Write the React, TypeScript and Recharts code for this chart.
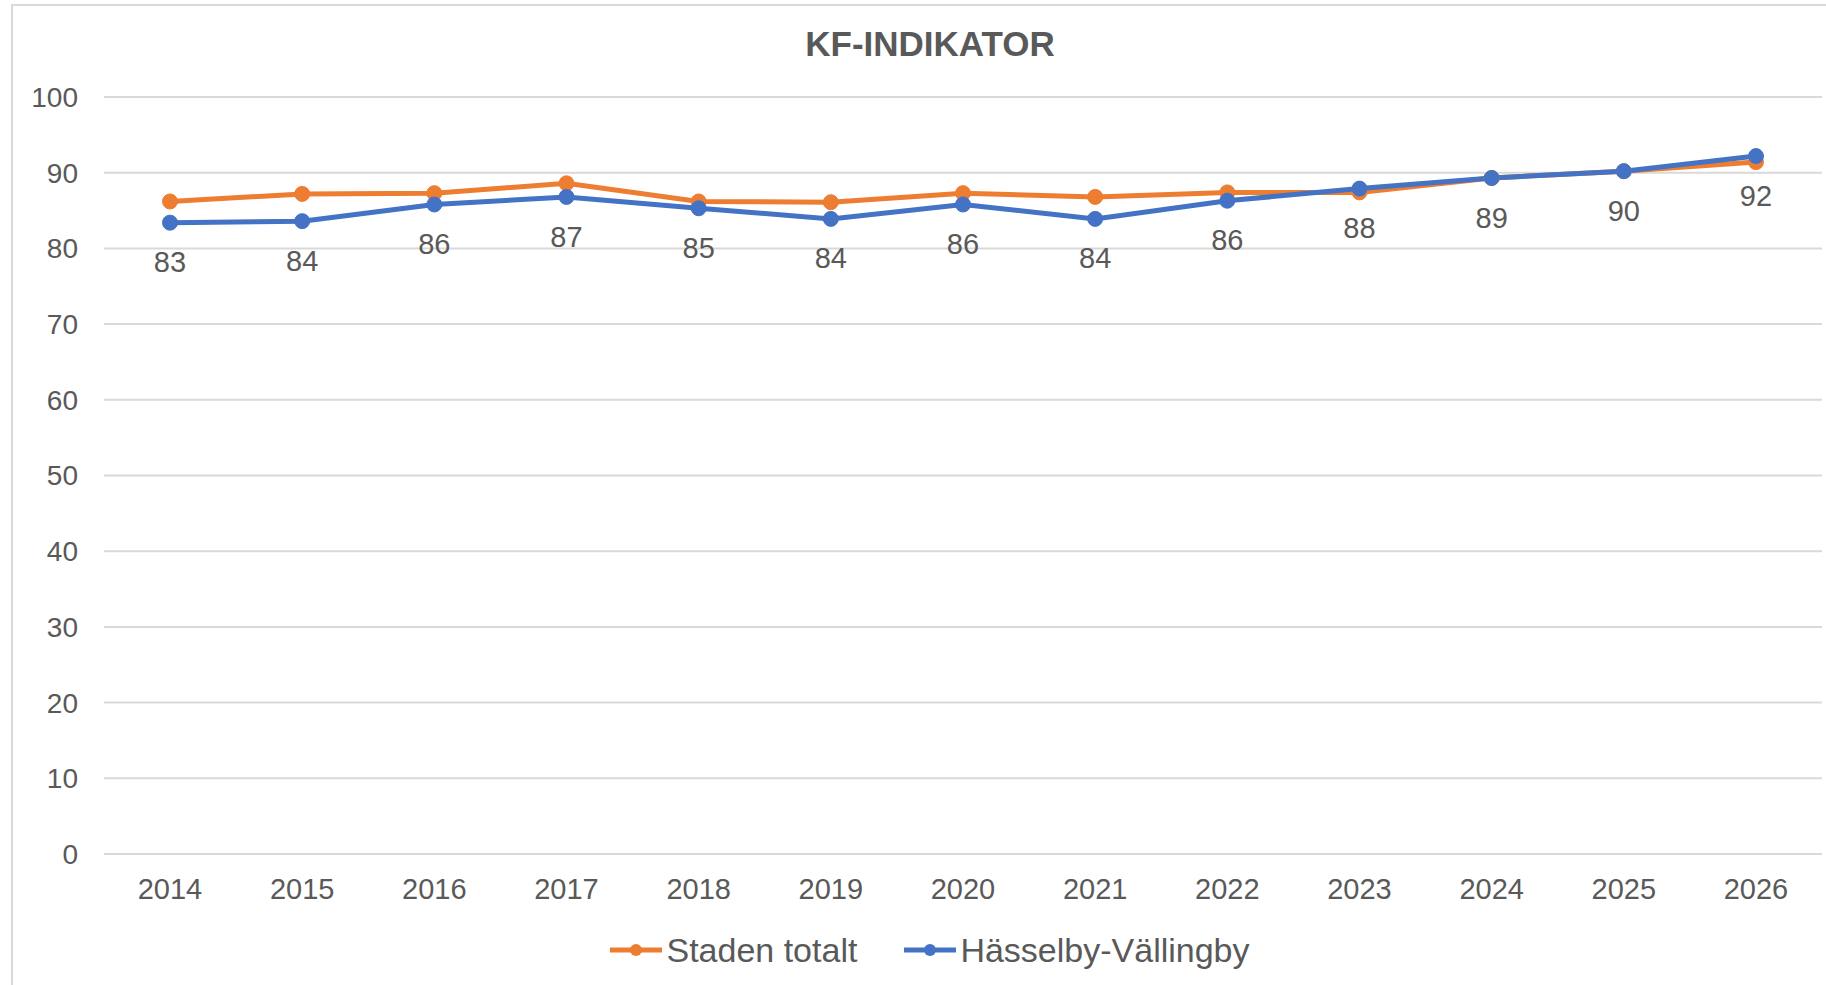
import React from 'react';
import {
  LineChart,
  Line,
  XAxis,
  YAxis,
  CartesianGrid,
  Legend,
  LabelList
} from 'recharts';

const years = ['2014', '2015', '2016', '2017', '2018', '2019', '2020', '2021', '2022', '2023', '2024', '2025', '2026'];
const stadenTotalt = [86.2, 87.2, 87.3, 88.6, 86.2, 86.1, 87.3, 86.8, 87.4, 87.4, 89.3, 90.2, 91.4];
const hasselbyVallingby = [83.4, 83.6, 85.8, 86.8, 85.3, 83.9, 85.8, 83.9, 86.3, 87.9, 89.3, 90.2, 92.2];
const yTicks = [0, 10, 20, 30, 40, 50, 60, 70, 80, 90, 100];

const seriesInfo = [
  { key: 'staden', name: 'Staden totalt', color: '#ED7D31' },
  { key: 'hv', name: 'Hässelby-Vällingby', color: '#4472C4' },
];

const FONT = '"Liberation Sans", Arial, sans-serif';
const TEXT = '#595959';
const GRID = '#d9d9d9';

const chartData = years.map((year, i) => ({
  year,
  staden: stadenTotalt[i],
  hv: hasselbyVallingby[i],
}));

// legend drawn by hand so the line+dot icons look like the Excel ones
const LegendContent = () => (
  <div
    style={{
      height: 70,
      display: 'flex',
      justifyContent: 'center',
      alignItems: 'center',
      paddingLeft: 38,
      boxSizing: 'border-box',
      fontFamily: FONT,
      fontSize: 34,
      color: TEXT,
    }}
  >
    {seriesInfo.map((s, i) => (
      <div key={s.key} style={{ display: 'flex', alignItems: 'center', marginLeft: i > 0 ? 47 : 0 }}>
        <svg width={52} height={16} style={{ marginRight: 4 }}>
          <line x1={0} y1={8} x2={52} y2={8} stroke={s.color} strokeWidth={5} />
          <circle cx={26} cy={8} r={6} fill={s.color} />
        </svg>
        <span>{s.name}</span>
      </div>
    ))}
  </div>
);

const App: React.FC = () => {
  return (
    <div style={{ position: 'absolute', left: 0, top: 0, width: 1826, height: 985, background: '#fff', overflow: 'hidden' }}>
      {/* chart frame, only top and left edges are visible */}
      <div
        style={{
          position: 'absolute',
          left: 11,
          top: 4,
          width: 1900,
          height: 1100,
          borderTop: `2px solid ${GRID}`,
          borderLeft: `2px solid ${GRID}`,
        }}
      />
      <div
        style={{
          position: 'absolute',
          left: 730,
          width: 400,
          top: 24,
          textAlign: 'center',
          fontFamily: FONT,
          fontWeight: 'bold',
          fontSize: 35,
          lineHeight: '40px',
          color: TEXT,
        }}
      >
        KF-INDIKATOR
      </div>
      <LineChart
        width={1826}
        height={985}
        data={chartData}
        margin={{ top: 97, right: 4, left: 0, bottom: 0 }}
        style={{ position: 'absolute', left: 0, top: 0 }}
      >
        <CartesianGrid vertical={false} stroke={GRID} strokeWidth={2} />
        <XAxis
          dataKey="year"
          height={61}
          padding={{ left: 66, right: 66 }}
          axisLine={{ stroke: GRID, strokeWidth: 2 }}
          tickLine={false}
          tickSize={0}
          tickMargin={24}
          tick={{ fill: TEXT, fontSize: 29, fontFamily: FONT }}
        />
        <YAxis
          width={104}
          domain={[0, 100]}
          ticks={yTicks}
          axisLine={false}
          tickLine={false}
          tickSize={0}
          tickMargin={26}
          tick={{ fill: TEXT, fontSize: 28, fontFamily: FONT }}
        />
        <Legend verticalAlign="bottom" content={<LegendContent />} />
        <Line
          dataKey="staden"
          name="Staden totalt"
          stroke="#ED7D31"
          strokeWidth={5}
          dot={{ r: 7.5, fill: '#ED7D31', stroke: '#ED7D31', strokeWidth: 1 }}
          isAnimationActive={false}
        />
        <Line
          dataKey="hv"
          name="Hässelby-Vällingby"
          stroke="#4472C4"
          strokeWidth={5}
          dot={{ r: 7.5, fill: '#4472C4', stroke: '#4472C4', strokeWidth: 1 }}
          isAnimationActive={false}
        >
          <LabelList
            dataKey="hv"
            position="bottom"
            offset={29}
            formatter={(v: any) => Math.round(Number(v))}
            style={{ fill: TEXT, fontSize: 29, fontFamily: FONT }}
          />
        </Line>
      </LineChart>
    </div>
  );
};

export default App;
